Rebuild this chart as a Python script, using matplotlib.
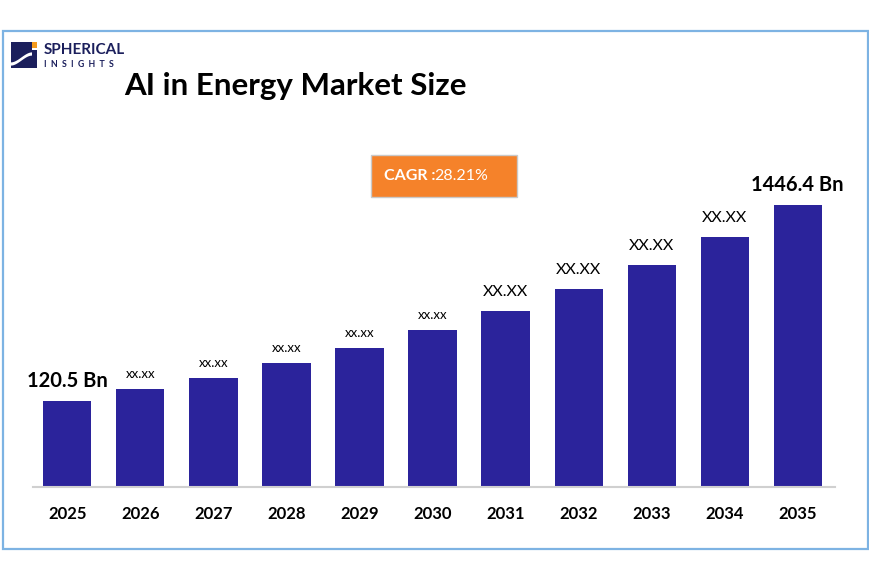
import matplotlib
matplotlib.use("Agg")
import matplotlib.pyplot as plt
from matplotlib.patches import Rectangle, Polygon
import numpy as np

# ---- data ----
years = ["2025", "2026", "2027", "2028", "2029", "2030",
         "2031", "2032", "2033", "2034", "2035"]
# relative bar heights as drawn (illustrative, not to scale with labels)
heights = [86, 98, 109, 124, 139, 157, 176, 198, 222, 250, 282]
value_labels = ["120.5 Bn", "xx.xx", "xx.xx", "xx.xx", "xx.xx", "xx.xx",
                "XX.XX", "XX.XX", "XX.XX", "XX.XX", "1446.4 Bn"]
title = "AI in Energy Market Size"
cagr_label = "CAGR :"
cagr_value = "28.21%"

FONT = ["Lato", "DejaVu Sans"]
BAR = "#2B239B"
W, H = 870, 580

fig = plt.figure(figsize=(8.7, 5.8), dpi=100)
fig.patch.set_facecolor("white")

# overlay axes in pixel coordinates for decorations
ov = fig.add_axes([0, 0, 1, 1])
ov.set_xlim(0, W)
ov.set_ylim(H, 0)
ov.axis("off")

# frame
ov.add_patch(Rectangle((3, 31), 865, 518, fill=False, edgecolor="#7DB3E3", lw=1.6))

# logo
ov.add_patch(Rectangle((11, 42), 21, 26, facecolor="#1B1F5C", edgecolor="none"))
ov.add_patch(Rectangle((32.5, 42), 5, 6, facecolor="#F39A1E", edgecolor="none"))
ov.add_patch(Rectangle((32.5, 50), 5, 18, facecolor="#1B1F5C", edgecolor="none"))
t = np.linspace(0, 1, 30)
xs = 11 + 21 * t
ys = 64 - 10 * (3 * t**2 - 2 * t**3)
poly = np.vstack([np.column_stack([xs, ys - 1.6]), np.column_stack([xs[::-1], ys[::-1] + 1.6])])
ov.add_patch(Polygon(poly, closed=True, facecolor="white", edgecolor="none"))
ov.text(44, 50, "SPHERICAL", fontsize=11, fontweight="bold", color="#1B1F5C",
        family=FONT, va="center", ha="left")
ov.text(44, 64.5, "I  N  S  I  G  H  T  S", fontsize=6.3, fontweight="bold", color="#1B1F5C",
        family=FONT, va="center", ha="left")

# title
ov.text(295, 86, title, fontsize=22.5, fontweight="bold", color="black",
        family=FONT, va="center", ha="center")

# CAGR box
ov.add_patch(Rectangle((371, 155), 146, 42, facecolor="#F5822A", edgecolor="#C9C9C9", lw=1))
ov.text(384, 176, cagr_label, fontsize=11.5, fontweight="bold", color="white",
        family=FONT, va="center", ha="left")
ov.text(434, 176, cagr_value, fontsize=11.5, color="white",
        family=FONT, va="center", ha="left")

# main bar axes
ax = fig.add_axes([33 / W, 1 - 487 / H, (835 - 33) / W, 387 / H])
x = np.arange(len(years))
ax.bar(x, heights, width=0.66, color=BAR, edgecolor="none", zorder=2)
ax.set_xlim(-0.47, 10.51)
ax.set_ylim(0, 387)
for s in ["top", "right", "left"]:
    ax.spines[s].set_visible(False)
ax.spines["bottom"].set_color("#D0D0D0")
ax.spines["bottom"].set_linewidth(1.5)
ax.set_yticks([])
ax.set_xticks(x)
ax.set_xticklabels(years, fontsize=12, fontweight="bold", family=FONT)
ax.tick_params(axis="x", length=0, pad=14)
ax.patch.set_alpha(0)

for i, (h, lab) in enumerate(zip(heights, value_labels)):
    if "Bn" in lab:
        ax.text(i, h + 20, lab, fontsize=14.5, fontweight="bold", family=FONT,
                ha="center", va="center", color="black")
    elif lab.isupper():
        ax.text(i, h + 19, lab, fontsize=11.5, family=FONT,
                ha="center", va="center", color="black")
    else:
        ax.text(i, h + 15, lab, fontsize=9.5, family=FONT,
                ha="center", va="center", color="black")

fig.savefig("out.png", dpi=100)
